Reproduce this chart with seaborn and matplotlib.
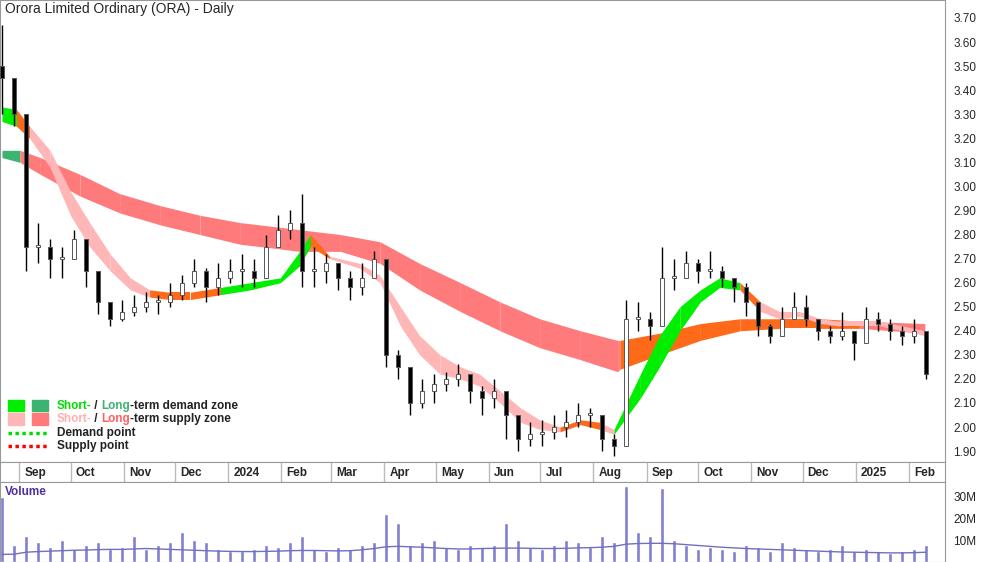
import numpy as np
import pandas as pd
import matplotlib
matplotlib.use("Agg")
import matplotlib.pyplot as plt
import matplotlib.dates as mdates
import seaborn as sns

sns.set_style("white")
plt.rcParams['font.family'] = ['Liberation Sans', 'DejaVu Sans']

start = pd.Timestamp("2023-08-18")
closes = [3.45,3.30,2.75,2.75,2.70,2.70,2.78,2.65,2.52,2.45,2.48,2.50,2.52,2.52,2.55,2.60,2.65,2.58,2.62,2.65,
          2.65,2.62,2.75,2.82,2.85,2.65,2.65,2.68,2.62,2.58,2.62,2.70,2.30,2.25,2.10,2.15,2.18,2.20,2.22,2.15,
          2.12,2.15,2.05,1.95,1.97,1.98,2.00,2.02,2.05,2.05,1.95,1.92,2.45,2.45,2.42,2.62,2.62,2.68,2.65,2.65,
          2.62,2.58,2.52,2.42,2.38,2.45,2.50,2.45,2.40,2.38,2.40,2.35,2.45,2.43,2.40,2.38,2.40,2.22]
highs = [3.67,3.35,2.95,2.85,2.78,2.75,2.82,2.75,2.60,2.52,2.53,2.55,2.56,2.55,2.60,2.63,2.70,2.66,2.68,2.70,
         2.72,2.70,2.80,2.88,2.90,2.97,2.75,2.72,2.68,2.65,2.68,2.73,2.42,2.32,2.22,2.20,2.22,2.23,2.26,2.20,
         2.17,2.20,2.12,2.02,2.02,2.03,2.05,2.07,2.10,2.08,2.02,1.97,2.53,2.52,2.48,2.75,2.70,2.73,2.70,2.73,
         2.67,2.62,2.60,2.50,2.43,2.50,2.56,2.55,2.45,2.42,2.48,2.40,2.50,2.48,2.45,2.42,2.45,2.30]
lows = [3.30,3.25,2.65,2.68,2.62,2.62,2.70,2.58,2.47,2.42,2.44,2.46,2.48,2.47,2.50,2.53,2.58,2.52,2.55,2.60,
        2.58,2.58,2.62,2.75,2.78,2.58,2.58,2.60,2.57,2.53,2.55,2.63,2.25,2.20,2.05,2.08,2.10,2.15,2.17,2.10,
        2.05,2.08,1.95,1.90,1.92,1.92,1.95,1.96,2.00,2.00,1.90,1.88,2.18,2.40,2.36,2.55,2.57,2.62,2.60,2.62,
        2.58,2.52,2.46,2.38,2.35,2.38,2.45,2.42,2.36,2.35,2.36,2.28,2.42,2.40,2.36,2.34,2.35,2.20]
volumes = [30,8,12,9,7,10,6,8,9,6,7,12,6,8,9,14,10,9,6,5,
           5,6,8,7,9,12,6,5,7,6,8,9,22,18,8,9,10,7,6,8,
           7,8,18,10,7,6,8,10,9,7,12,9,35,14,12,34,10,8,6,7,
           6,5,8,7,5,9,7,6,5,6,8,5,6,5,4,5,6,8]
vol_ma = [3.5,3.6,4.5,4.8,5.0,5.2,5.4,5.5,5.7,5.8,5.8,6.0,6.2,6.0,5.8,5.6,5.4,5.2,5.0,4.9,
          4.8,4.8,4.9,5.0,5.2,5.3,5.3,5.2,5.1,5.2,5.6,6.2,7.0,7.2,7.0,6.8,6.5,6.2,6.0,6.0,
          6.2,6.3,6.4,6.4,6.3,6.2,6.2,6.3,6.5,6.6,6.8,7.2,8.2,8.5,8.6,8.6,8.4,8.0,7.6,7.2,
          6.8,6.5,6.2,6.0,5.8,5.6,5.4,5.2,5.0,4.8,4.6,4.5,4.4,4.3,4.2,4.2,4.3,4.5]

long_w = [0,1.5,3.2,6.5,9.8,13.2,16.5,19.8,23.2,24.8,28.2,31.5,34.8,38.2,41.5,44.8,48.2,51.3,51.5,54.8,58.2,61.5,64.8,68.2,71.5,76.9]
long_hi = [3.15,3.15,3.12,3.05,2.97,2.92,2.88,2.85,2.83,2.82,2.80,2.77,2.68,2.60,2.52,2.45,2.40,2.36,2.36,2.39,2.43,2.45,2.45,2.45,2.44,2.43]
long_lo = [3.12,3.10,3.05,2.96,2.89,2.84,2.80,2.76,2.74,2.73,2.73,2.68,2.57,2.48,2.40,2.33,2.28,2.23,2.24,2.30,2.36,2.40,2.41,2.41,2.41,2.39]
long_st = ['ld','ls','ls','ls','ls','ls','ls','ls','ls','ls','ls','ls','ls','ls','ls','ls','ls','ls','ov','ov','ov','ov','ov','ov','ls','ls']

short_w = [0,1.2,2.3,4,5.7,7.3,9,10.7,12.3,14,15.7,18.2,20.7,23.2,24.8,25.7,27.3,29.8,31.5,33.2,34.8,36.5,38.2,39.8,41.5,43.2,44.8,46.5,48.2,49.8,51,53.2,54.8,56.5,58.2,59.8,61.5,63.2,64.8,66.5,68.2,69.8,73.2,76.9]
short_hi = [3.33,3.32,3.25,3.15,2.98,2.85,2.72,2.62,2.57,2.56,2.56,2.58,2.60,2.62,2.73,2.80,2.71,2.68,2.63,2.50,2.38,2.30,2.25,2.22,2.15,2.08,2.03,2.00,2.03,2.02,1.99,2.22,2.38,2.50,2.57,2.62,2.60,2.52,2.48,2.48,2.45,2.44,2.44,2.40]
short_lo = [3.27,3.25,3.20,3.08,2.88,2.75,2.65,2.57,2.54,2.53,2.53,2.55,2.57,2.60,2.67,2.75,2.70,2.66,2.60,2.42,2.30,2.22,2.20,2.17,2.10,2.02,1.99,1.98,2.01,1.99,1.97,2.12,2.25,2.40,2.52,2.58,2.57,2.48,2.45,2.46,2.43,2.42,2.42,2.38]
short_st = ['sd','ov','ss','ss','ss','ss','ss','ss','ov','ov','ov','sd','sd','sd','sd','ov','ss','ss','ss','ss','ss','ss','ss','ss','ss','ss','ss','ov','ov','ss','sd','sd','sd','sd','sd','sd','ov','ss','ss','ss','ss','ss','ss','ss']

colors = {'ld': '#3CB371', 'ls': '#FF7B7B', 'sd': '#00EE00', 'ss': '#FFB6B6', 'ov': '#FF6A1A'}

month_labels = ["Sep","Oct","Nov","Dec","2024","Feb","Mar","Apr","May","Jun","Jul","Aug","Sep","Oct","Nov","Dec","2025","Feb"]
month_dates = pd.date_range("2023-09-01", "2025-02-01", freq="MS")
price_ticks = [1.90,2.00,2.10,2.20,2.30,2.40,2.50,2.60,2.70,2.80,2.90,3.00,3.10,3.20,3.30,3.40,3.50,3.60,3.70]

dates = [start + pd.Timedelta(days=7*i) for i in range(len(closes))]
xd = mdates.date2num(dates)
def w2d(w):
    return mdates.date2num(start) + 7*np.asarray(w, dtype=float)

fig = plt.figure(figsize=(10, 5.62), dpi=100)
W = 945/1000
ax = fig.add_axes([0, 100/562, W, 462/562])
axl = fig.add_axes([0, 80/562, W, 20/562])
axv = fig.add_axes([0, 0, W, 80/562])

x0 = mdates.date2num(start) - 7/12*2
x1 = x0 + 945*7/12
for a in (ax, axl, axv):
    a.set_xlim(x0, x1)

def draw_band(wp, hi, lo, st):
    xs = w2d(wp)
    for i in range(len(xs)-1):
        ax.fill_between([xs[i], xs[i+1]], [hi[i], hi[i+1]], [lo[i], lo[i+1]],
                        color=colors[st[i]], lw=0, zorder=1)

draw_band(long_w, long_hi, long_lo, long_st)
draw_band(short_w, short_hi, short_lo, short_st)

opens = [closes[0]+0.05] + closes[:-1]
for i in range(len(closes)):
    ax.vlines(xd[i], lows[i], highs[i], color='black', lw=1, zorder=3)
    o, c = opens[i], closes[i]
    up = c >= o
    ax.bar(xd[i], max(abs(c-o), 0.008), bottom=min(o, c), width=2.2,
           color='white' if up else 'black', edgecolor='#555555', lw=0.7, zorder=4)

ax.set_ylim(3.70 - 462/240.6 + 18/240.6, 3.70 + 18/240.6)
ax.yaxis.tick_right()
ax.set_yticks(price_ticks)
ax.set_yticklabels([f"{t:.2f}" for t in price_ticks], fontsize=8.5)
ax.set_xticks([])
ax.tick_params(axis='y', length=0, pad=6)
ax.text(0.005, 0.995, "Orora Limited Ordinary (ORA) - Daily", transform=ax.transAxes,
        va='top', ha='left', fontsize=10)

lx, ly = 0.008, 0.11
def sq(x, y, c):
    ax.add_patch(plt.Rectangle((x, y), 0.017, 0.025, transform=ax.transAxes, color=c, zorder=5))
sq(lx, ly, colors['sd']); sq(lx+0.026, ly, colors['ld'])
sq(lx, ly-0.03, colors['ss']); sq(lx+0.026, ly-0.03, colors['ls'])
ty = ly + 0.012
fs = 8.5
tx = 0.06
t = ax.text(tx, ty, "Short-", color='#00DD00', transform=ax.transAxes, va='center', fontsize=fs, fontweight='bold')
fig.canvas.draw()
def after(prev, s, c):
    bb = prev.get_window_extent().transformed(ax.transAxes.inverted())
    return ax.text(bb.x1, bb.y0 + bb.height/2, s, color=c, transform=ax.transAxes, va='center', fontsize=fs, fontweight='bold')
t2 = after(t, " / ", '#222222'); t3 = after(t2, "Long", '#3CB371'); after(t3, "-term demand zone", '#222222')
t = ax.text(tx, ty-0.03, "Short-", color='#FFB0B0', transform=ax.transAxes, va='center', fontsize=fs, fontweight='bold')
t2 = after(t, " / ", '#222222'); t3 = after(t2, "Long", '#FF6060'); after(t3, "-term supply zone", '#222222')
ax.plot([0.008, 0.05], [ty-0.06]*2, ls=(0, (1, 1)), color='#00DD00', lw=2.5, transform=ax.transAxes)
ax.text(tx, ty-0.06, "Demand point", transform=ax.transAxes, va='center', fontsize=fs, fontweight='bold', color='#222222')
ax.plot([0.008, 0.05], [ty-0.088]*2, ls=(0, (1, 1)), color='#FF0000', lw=2.5, transform=ax.transAxes)
ax.text(tx, ty-0.088, "Supply point", transform=ax.transAxes, va='center', fontsize=fs, fontweight='bold', color='#222222')

md = mdates.date2num(month_dates)
for d, lab in zip(md, month_labels):
    axl.axvline(d - 4, color='#BBBBBB', lw=1)
    axl.text(d - 1, 0.45, lab, ha='left', va='center', fontsize=8.5, fontweight='bold', transform=axl.get_xaxis_transform())
axl.set_xticks([]); axl.set_yticks([])

axv.bar(xd, volumes, width=1.8, color='#8080D0', zorder=2)
sns.lineplot(x=xd, y=vol_ma, ax=axv, color='#7070C0', lw=1, zorder=3)
axv.set_ylim(0, 30 + 15/22*10)
axv.yaxis.tick_right()
axv.set_yticks([10, 20, 30]); axv.set_yticklabels(["10M", "20M", "30M"], fontsize=8.5)
axv.tick_params(axis='y', length=0, pad=6)
axv.set_xticks([])
axv.text(0.005, 0.95, "Volume", transform=axv.transAxes, va='top', fontsize=8.5, fontweight='bold', color='#5030A0')

for a in (ax, axl, axv):
    for s in a.spines.values():
        s.set_color('#999999'); s.set_linewidth(0.8)

fig.savefig("out.png", dpi=100)
